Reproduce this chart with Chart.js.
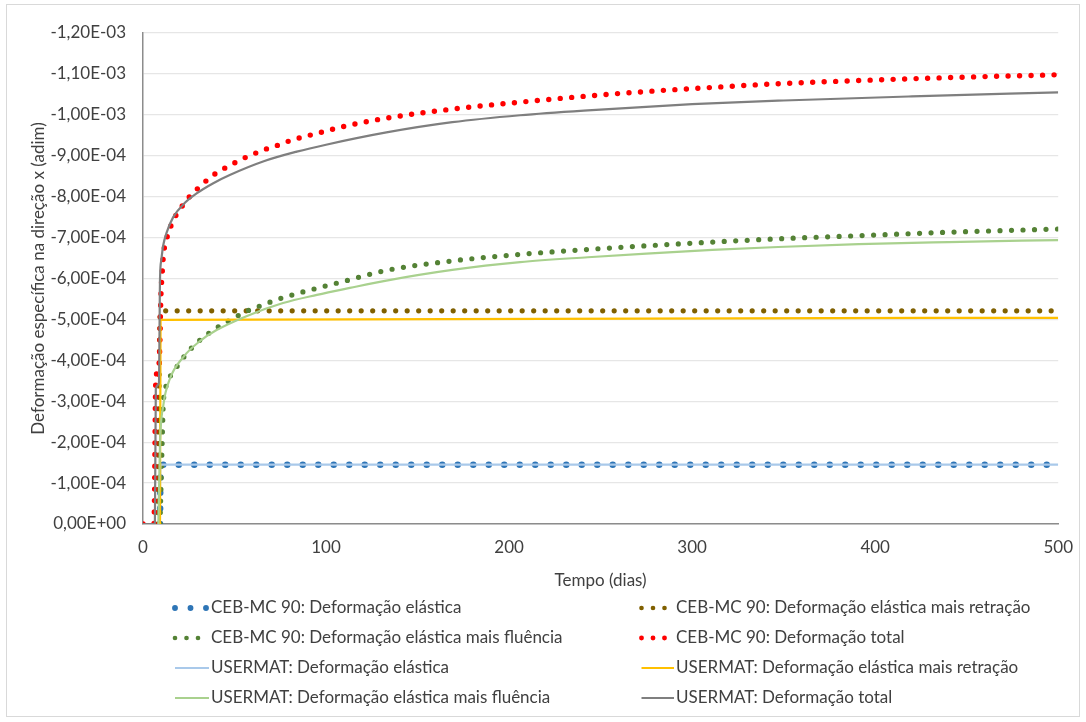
<!DOCTYPE html>
<html>
<head>
<meta charset="utf-8">
<script src="https://cdn.jsdelivr.net/npm/chart.js@4.4.0/dist/chart.umd.min.js"></script>
<style>
html,body{margin:0;padding:0;background:#ffffff;}
#wrap{position:relative;width:1086px;height:722px;}
canvas{display:block;}
</style>
</head>
<body>
<div id="wrap"><canvas id="c" width="1086" height="722"></canvas></div>
<script>
// ---------- DATA (tempo em dias, deformação adimensional) ----------
const xTicks = [0, 100, 200, 300, 400, 500];

const tCebElastica = [9.3, 9.6, 500];
const vCebElastica = [0, -1.45e-4, -1.45e-4];

const tCebRetracao = [8.0, 9.5, 500];
const vCebRetracao = [0, -5.21e-4, -5.21e-4];

const tCebFluencia = [9.3, 10.2, 11.1, 12.2, 13.8, 17.4, 21.1, 24.7, 29.2, 34.1, 39.3, 44.7, 50.2, 55.6, 61.1, 66.9, 72.9, 78.7, 84.7, 90.7, 96.5, 108.8, 133, 169, 206, 243, 275, 311, 347, 387, 440, 500];
const vCebFluencia = [0, -1.56e-4, -2.95e-4, -3.30e-4, -3.52e-4, -3.77e-4, -4.01e-4, -4.21e-4, -4.42e-4, -4.60e-4, -4.77e-4, -4.91e-4, -5.05e-4, -5.18e-4, -5.28e-4, -5.38e-4, -5.48e-4, -5.56e-4, -5.64e-4, -5.71e-4, -5.78e-4, -5.92e-4, -6.20e-4, -6.43e-4, -6.59e-4, -6.71e-4, -6.80e-4, -6.89e-4, -6.97e-4, -7.04e-4, -7.13e-4, -7.21e-4];

const tCebTotal = [0, 6, 7, 8.8, 9.8, 10.5, 11.2, 12.5, 14.7, 17.1, 20.5, 24.2, 28.5, 33.1, 37.8, 43.2, 48.5, 54.1, 59.8, 65.6, 71.4, 77.3, 83.3, 89.2, 95.4, 110, 133, 169, 206, 243, 275, 311, 347, 386, 440, 500];
const vCebTotal = [0, 0, -3.5e-4, -3.9e-4, -5.6e-4, -6.15e-4, -6.6e-4, -6.9e-4, -7.22e-4, -7.47e-4, -7.71e-4, -7.94e-4, -8.14e-4, -8.33e-4, -8.51e-4, -8.66e-4, -8.79e-4, -8.92e-4, -9.03e-4, -9.14e-4, -9.22e-4, -9.32e-4, -9.41e-4, -9.48e-4, -9.55e-4, -9.72e-4, -9.92e-4, -10.14e-4, -10.31e-4, -10.46e-4, -10.57e-4, -10.67e-4, -10.76e-4, -10.83e-4, -10.91e-4, -10.98e-4];

const tUserElastica = [9.0, 9.6, 500];
const vUserElastica = [0, -1.45e-4, -1.45e-4];

const tUserRetracao = [9.3, 9.6, 500];
const vUserRetracao = [0, -4.99e-4, -5.04e-4];

const tUserFluencia = [8.4, 9.3, 11.1, 14.7, 22, 31.1, 40.2, 56.5, 76.5, 95, 113, 133, 169, 206, 243, 275, 311, 347, 391, 440, 500];
const vUserFluencia = [0, -1.97e-4, -2.9e-4, -3.55e-4, -4.08e-4, -4.47e-4, -4.74e-4, -5.08e-4, -5.4e-4, -5.6e-4, -5.77e-4, -5.95e-4, -6.21e-4, -6.40e-4, -6.52e-4, -6.61e-4, -6.70e-4, -6.77e-4, -6.84e-4, -6.89e-4, -6.94e-4];

const tUserTotal = [0, 6.5, 7, 8.7, 9.3, 10, 11, 12.9, 16.5, 22.9, 29.3, 38.4, 47.4, 65.6, 84, 100, 133, 169, 206, 243, 300, 350, 420, 500];
const vUserTotal = [0, 0, -3.3e-4, -3.45e-4, -6.0e-4, -6.45e-4, -6.8e-4, -7.12e-4, -7.5e-4, -7.85e-4, -8.08e-4, -8.33e-4, -8.53e-4, -8.86e-4, -9.1e-4, -9.27e-4, -9.57e-4, -9.82e-4, -9.99e-4, -10.11e-4, -10.26e-4, -10.35e-4, -10.45e-4, -10.55e-4];

const seriesLabels = [
  'CEB-MC 90: Deformação elástica',
  'CEB-MC 90: Deformação elástica mais retração',
  'CEB-MC 90: Deformação elástica mais fluência',
  'CEB-MC 90: Deformação total',
  'USERMAT: Deformação elástica',
  'USERMAT: Deformação elástica mais retração',
  'USERMAT: Deformação elástica mais fluência',
  'USERMAT: Deformação total'
];
// -------------------------------------------------------------------

const FONT = 'Lato';
const FSIZE = 17;
const TXT = '#404040';

function pts(t, v) { return t.map((x, i) => ({ x: x, y: v[i] })); }

function fmtSci(v) {
  if (Math.abs(v) < 1e-12) return '0,00E+00';
  const s = v.toExponential(2);
  const parts = s.split('e');
  const e = parseInt(parts[1], 10);
  return parts[0].replace('.', ',') + 'E' + (e < 0 ? '-' : '+') + String(Math.abs(e)).padStart(2, '0');
}

const styles = [
  { color: '#2e75b6', width: 6.5, dash: [0, 15.5], cap: 'round', dotted: true, period: 15.5 },
  { color: '#806000', width: 5.2, dash: [0, 11.5], cap: 'round', dotted: true, period: 11.5 },
  { color: '#548235', width: 5.2, dash: [0, 11.5], cap: 'round', dotted: true, period: 11.5 },
  { color: '#ff0000', width: 5.4, dash: [0, 11.5], cap: 'round', dotted: true, period: 11.5 },
  { color: '#a9c9ea', width: 2.2, dash: [], cap: 'butt', dotted: false },
  { color: '#ffc000', width: 2.2, dash: [], cap: 'butt', dotted: false },
  { color: '#a9d18e', width: 2.2, dash: [], cap: 'butt', dotted: false },
  { color: '#7f7f7f', width: 2.2, dash: [], cap: 'butt', dotted: false }
];

const seriesData = [
  pts(tCebElastica, vCebElastica),
  pts(tCebRetracao, vCebRetracao),
  pts(tCebFluencia, vCebFluencia),
  pts(tCebTotal, vCebTotal),
  pts(tUserElastica, vUserElastica),
  pts(tUserRetracao, vUserRetracao),
  pts(tUserFluencia, vUserFluencia),
  pts(tUserTotal, vUserTotal)
];

const datasets = seriesLabels.map((lab, i) => ({
  label: lab,
  data: seriesData[i],
  borderColor: styles[i].color,
  backgroundColor: styles[i].color,
  borderWidth: styles[i].width,
  borderDash: styles[i].dash,
  borderCapStyle: styles[i].cap,
  borderJoinStyle: 'round',
  pointRadius: 0,
  pointHoverRadius: 0,
  fill: false,
  cubicInterpolationMode: 'monotone',
  order: seriesLabels.length - 1 - i
}));

const framePlugin = {
  id: 'frame',
  beforeDraw(chart) {
    const ctx = chart.ctx;
    ctx.save();
    ctx.fillStyle = '#ffffff';
    ctx.fillRect(0, 0, chart.width, chart.height);
    ctx.strokeStyle = '#d9d9d9';
    ctx.lineWidth = 1;
    ctx.strokeRect(6.5, 4.5, 1073, 712);
    ctx.restore();
  }
};

const legendPlugin = {
  id: 'customLegend',
  afterDraw(chart) {
    const ctx = chart.ctx;
    const symX = [175, 641.5];
    const txtX = [211, 676];
    const rowY = [608, 638, 668, 698];
    chart.data.datasets.forEach((ds, i) => {
      const col = i % 2, row = Math.floor(i / 2);
      const st = styles[i];
      const x0 = symX[col], y = rowY[row];
      ctx.save();
      ctx.strokeStyle = st.color;
      ctx.lineWidth = st.dotted ? st.width * 0.9 : st.width;
      ctx.lineCap = st.cap;
      ctx.setLineDash(st.dash);
      ctx.beginPath();
      if (st.dotted) {
        ctx.moveTo(x0, y);
        ctx.lineTo(x0 + 2 * st.period + 0.2, y);
      } else {
        ctx.moveTo(x0, y);
        ctx.lineTo(txtX[col] - 2, y);
      }
      ctx.stroke();
      ctx.setLineDash([]);
      ctx.fillStyle = TXT;
      ctx.font = FSIZE + 'px ' + FONT;
      ctx.textBaseline = 'middle';
      ctx.textAlign = 'left';
      ctx.fillText(ds.label, txtX[col], y);
      ctx.restore();
    });
  }
};

new Chart(document.getElementById('c'), {
  type: 'line',
  data: { datasets: datasets },
  options: {
    responsive: false,
    devicePixelRatio: 1,
    animation: false,
    events: [],
    layout: { padding: { left: 24, top: 33, right: 25, bottom: 128 } },
    plugins: {
      legend: { display: false },
      tooltip: { enabled: false },
      title: { display: false }
    },
    scales: {
      x: {
        type: 'linear',
        min: 0,
        max: 500,
        afterBuildTicks(scale) { scale.ticks = xTicks.map(v => ({ value: v })); },
        afterFit(scale) { scale.height = 70; },
        grid: { display: false, drawTicks: false },
        border: { display: true, color: '#8c8c8c', width: 1.5 },
        ticks: { color: TXT, font: { family: FONT, size: FSIZE }, padding: 13, maxRotation: 0 },
        title: { display: true, text: 'Tempo (dias)', color: TXT, font: { family: FONT, size: FSIZE }, padding: { top: 4, bottom: 3 } }
      },
      y: {
        type: 'linear',
        reverse: true,
        min: -0.0012,
        max: 0,
        afterFit(scale) { scale.width = 119; },
        grid: { color: '#e6e6e6', lineWidth: 1.2, drawTicks: false },
        border: { display: true, color: '#8c8c8c', width: 1.5 },
        ticks: { stepSize: 0.0001, color: TXT, font: { family: FONT, size: FSIZE }, padding: 17, callback: (v) => fmtSci(v) },
        title: { display: true, text: 'Deformação específica na direção x (adim)', color: TXT, font: { family: FONT, size: FSIZE }, padding: { top: 4, bottom: 4 } }
      }
    }
  },
  plugins: [framePlugin, legendPlugin]
});
</script>
</body>
</html>
